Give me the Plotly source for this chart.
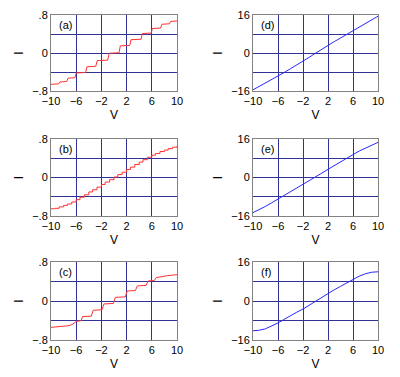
import plotly.graph_objects as go
from plotly.subplots import make_subplots

# Panel (a): coarse Coulomb staircase
a_v = [-10, -8.8, -8.6, -7.5, -7.3, -6.2, -6.0, -4.5, -4.3, -2.9, -2.65, -1.0, -0.75, 0.8, 1.0, 2.5, 2.7, 4.3, 4.5, 5.9, 6.1, 7.4, 7.6, 8.8, 9.0, 10]
a_i = [-0.66, -0.65, -0.61, -0.60, -0.53, -0.52, -0.42, -0.41, -0.29, -0.28, -0.16, -0.15, -0.005, 0.005, 0.15, 0.16, 0.28, 0.29, 0.41, 0.42, 0.515, 0.525, 0.605, 0.615, 0.665, 0.675]

# Panel (b): fine staircase (level from each step onward)
b_v = [-10, -9.4, -8.7, -8.0, -7.4, -6.7, -6.0, -5.4, -4.7, -4.0, -3.4, -2.7, -2.0, -1.4, -0.7, 0.0,
       0.6, 1.3, 2.0, 2.6, 3.3, 4.0, 4.6, 5.3, 6.0, 6.6, 7.3, 8.0, 8.6, 9.3, 10]
b_i = [-0.65, -0.64, -0.61, -0.58, -0.55, -0.51, -0.46, -0.41, -0.36, -0.30, -0.255, -0.20, -0.145, -0.095, -0.045, 0.01,
       0.06, 0.11, 0.165, 0.215, 0.27, 0.32, 0.37, 0.42, 0.465, 0.50, 0.54, 0.57, 0.60, 0.63, 0.65]

# Panel (c): staircase saturating at the ends
c_v = [-10, -8.5, -7.5, -7.0, -6.5, -6.0, -5.5, -5.2, -5.0, -3.6, -3.3, -1.9, -1.6, -0.1, 0.2, 1.8, 2.1, 3.4, 3.7, 5.1, 5.4, 6.4, 6.7, 7.5, 8.5, 10]
c_i = [-0.54, -0.53, -0.51, -0.50, -0.47, -0.42, -0.41, -0.40, -0.32, -0.31, -0.19, -0.18, -0.06, -0.05, 0.075, 0.085, 0.205, 0.215, 0.31, 0.32, 0.41, 0.42, 0.48, 0.50, 0.52, 0.54]

# Panels (d)-(f): smooth curves
v_grid = [-10, -9, -8, -7, -6, -5, -4, -3, -2, -1, 0, 1, 2, 3, 4, 5, 6, 7, 8, 9, 10]
d_i = [-15.5, -14.1, -12.6, -11.2, -9.7, -8.2, -6.6, -5.1, -3.5, -1.8, -0.1, 1.6, 3.2, 4.8, 6.3, 7.8, 9.2, 10.8, 12.3, 13.9, 15.5]
e_i = [-14.6, -13.4, -12.0, -10.5, -9.0, -7.5, -6.0, -4.5, -3.0, -1.4, 0.2, 1.8, 3.4, 5.0, 6.5, 8.0, 9.5, 11.0, 12.3, 13.6, 14.6]
f_i = [-12.2, -12.0, -11.4, -10.3, -9.0, -7.5, -5.9, -4.6, -3.3, -1.7, -0.1, 1.6, 3.2, 4.6, 6.0, 7.5, 8.9, 10.2, 11.2, 11.8, 12.0]

x_ticks = [-10, -6, -2, 2, 6, 10]
x_ticktext = ["\u221210", "\u22126", "\u22122", "2", "6", "10"]

RED = "rgb(255,50,50)"
BLUE = "rgb(40,40,255)"
GRID = "rgb(50,50,150)"
FRAME = "rgb(130,130,130)"
FONT = "Liberation Sans, Arial, sans-serif"

# la page ajoute une marge de 8 px autour de la figure
PAGE_PAD = 8
W, H = 400 - PAGE_PAD, 377 - PAGE_PAD

fig = make_subplots(rows=3, cols=2)

panels = [
    # row, col, x, y, color, shape, label
    (1, 1, a_v, a_i, RED, "linear", "(a)"),
    (1, 2, v_grid, d_i, BLUE, "linear", "(d)"),
    (2, 1, b_v, b_i, RED, "hv", "(b)"),
    (2, 2, v_grid, e_i, BLUE, "linear", "(e)"),
    (3, 1, c_v, c_i, RED, "linear", "(c)"),
    (3, 2, v_grid, f_i, BLUE, "linear", "(f)"),
]


def xdom(left, right):
    return [(left - PAGE_PAD) / W, (right - PAGE_PAD) / W]


def ydom(top, bottom):
    return [1 - (bottom - PAGE_PAD) / H, 1 - (top - PAGE_PAD) / H]


# domaines en pixels mesurés sur la référence
col_dom = {1: xdom(51, 177), 2: xdom(253, 378)}
row_dom = {1: ydom(15, 91), 2: ydom(139, 216), 3: ydom(262, 340)}

for k, (r, c, xs, ys, color, shape, label) in enumerate(panels):
    fig.add_trace(go.Scatter(x=xs, y=ys, mode="lines", line=dict(color=color, width=1, shape=shape),
                             showlegend=False), row=r, col=c)
    if c == 1:
        yt, ytt, yg, yr = [-0.8, 0, 0.8], ["\u2212.8", "0", ".8"], [-0.4, 0, 0.4], [-0.8, 0.8]
    else:
        yt, ytt, yg, yr = [-16, 0, 16], ["\u221216", "0", "16"], [-8, 0, 8], [-16, 16]
    fig.update_xaxes(row=r, col=c, range=[-10, 10], domain=col_dom[c], tickvals=x_ticks, ticktext=x_ticktext,
                     showgrid=False, zeroline=False, ticks="", showline=True, linecolor=FRAME, linewidth=1,
                     mirror=True, minor=dict(tickvals=[-6, -2, 2, 6], showgrid=True, gridcolor=GRID, gridwidth=1),
                     title=dict(text="V", standoff=4, font=dict(size=12)), tickfont=dict(size=11),
                     automargin=False)
    fig.update_yaxes(row=r, col=c, range=yr, domain=row_dom[r], tickvals=yt, ticktext=ytt,
                     showgrid=False, zeroline=False, ticks="", showline=True, linecolor=FRAME, linewidth=1,
                     mirror=True, minor=dict(tickvals=yg, showgrid=True, gridcolor=GRID, gridwidth=1),
                     title=dict(text="I", standoff=5, font=dict(size=12)), tickfont=dict(size=11),
                     automargin=False)
    suffix = "" if k == 0 else str(k + 1)
    fig.add_annotation(text=label, xref=f"x{suffix} domain", yref=f"y{suffix} domain", x=0.05, y=0.87,
                       xanchor="left", yanchor="middle", showarrow=False, font=dict(size=11))

fig.update_layout(
    width=W, height=H,
    margin=dict(l=0, r=0, t=0, b=0, autoexpand=False),
    paper_bgcolor="white", plot_bgcolor="white",
    font=dict(family=FONT, color="black", size=11),
)

fig.write_html("out.html")
